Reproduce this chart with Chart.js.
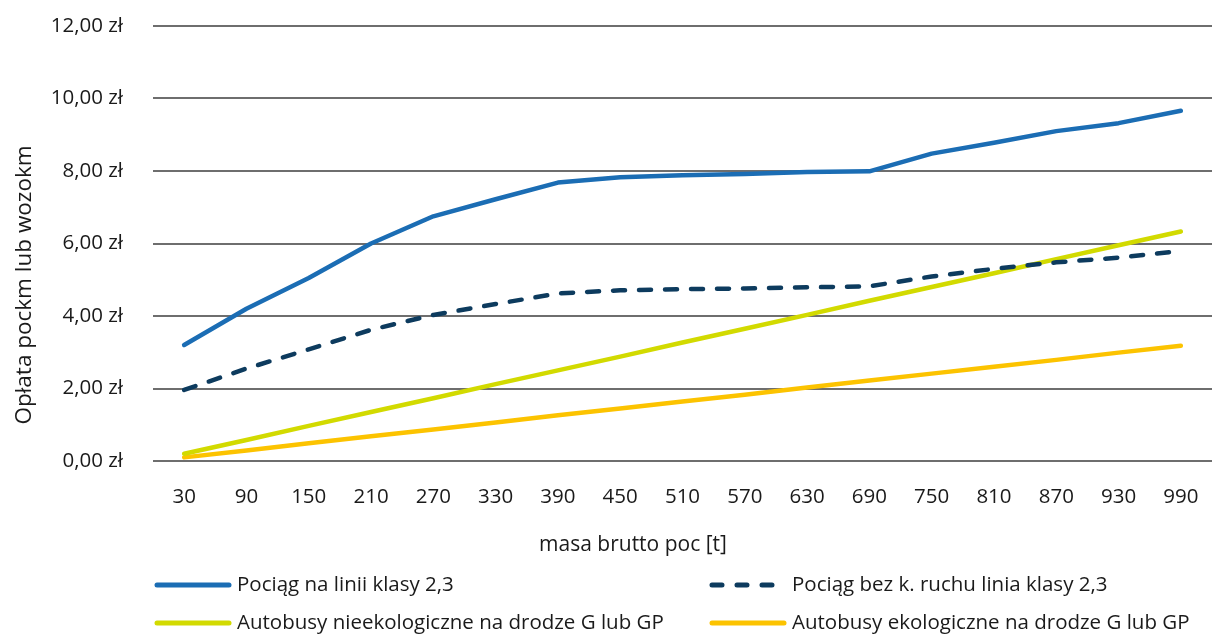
<!DOCTYPE html>
<html lang="pl">
<head>
<meta charset="utf-8">
<script src="https://cdn.jsdelivr.net/npm/chart.js@4/dist/chart.umd.min.js"></script>
<style>
  html, body { margin: 0; padding: 0; background: #ffffff; }
  #wrap { width: 1212px; height: 636px; position: relative; }
</style>
</head>
<body>
<div id="wrap"><canvas id="chart" width="1212" height="636"></canvas></div>
<script>
// Gross train mass [t]
const masses = ['30','90','150','210','270','330','390','450','510','570','630','690','750','810','870','930','990'];

// Fee per train-km or vehicle-km [zł]
const pociagLinia23 = [3.20, 4.20, 5.05, 6.00, 6.75, 7.22, 7.68, 7.83, 7.88, 7.92, 7.97, 7.99, 8.48, 8.78, 9.10, 9.32, 9.66];
const pociagBezRuchu = [1.96, 2.55, 3.08, 3.62, 4.03, 4.33, 4.62, 4.71, 4.74, 4.76, 4.79, 4.82, 5.09, 5.30, 5.48, 5.61, 5.79];
const autobusyNieeko = [0.20, 0.58, 0.97, 1.35, 1.73, 2.12, 2.50, 2.88, 3.27, 3.65, 4.03, 4.42, 4.80, 5.18, 5.57, 5.95, 6.33];
const autobusyEko    = [0.10, 0.29, 0.49, 0.68, 0.87, 1.06, 1.26, 1.45, 1.64, 1.83, 2.03, 2.22, 2.41, 2.60, 2.79, 2.99, 3.18];

const yTicks = [0, 2, 4, 6, 8, 10, 12];

const seriesNames = [
  'Pociąg na linii klasy 2,3',
  'Pociąg bez k. ruchu linia klasy 2,3',
  'Autobusy nieekologiczne na drodze G lub GP',
  'Autobusy ekologiczne na drodze G lub GP'
];

const yTitle = 'Opłata pockm lub wozokm';
const xTitle = 'masa brutto poc [t]';

const FONT = '"Open Sans", "Noto Sans", sans-serif';
const TEXT = '#1a1a1a';

function formatZl(v) {
  return v.toFixed(2).replace('.', ',') + ' zł';
}

// Axis titles and a two-column legend, drawn on the canvas after the chart
const annotations = {
  id: 'annotations',
  afterDraw(chart) {
    const ctx = chart.ctx;
    ctx.save();
    ctx.fillStyle = TEXT;
    ctx.textBaseline = 'middle';

    // vertical axis title
    ctx.font = '22.5px ' + FONT;
    ctx.textAlign = 'center';
    ctx.save();
    ctx.translate(25, 285);
    ctx.rotate(-Math.PI / 2);
    ctx.fillText(yTitle, 0, 0);
    ctx.restore();

    // horizontal axis title
    ctx.font = '21px ' + FONT;
    ctx.fillText(xTitle, 633, 545);

    // legend
    const cols = [155, 710];
    const rows = [585, 623];
    ctx.font = '20.5px ' + FONT;
    ctx.textAlign = 'left';
    chart.data.datasets.forEach((ds, i) => {
      const x = cols[i % 2];
      const y = rows[Math.floor(i / 2)];
      ctx.beginPath();
      ctx.strokeStyle = ds.borderColor;
      ctx.lineWidth = 5;
      ctx.lineCap = 'round';
      ctx.setLineDash(ds.borderDash && ds.borderDash.length ? [10, 15] : []);
      ctx.moveTo(x + 2, y);
      ctx.lineTo(x + 74, y);
      ctx.stroke();
      ctx.setLineDash([]);
      ctx.fillStyle = TEXT;
      ctx.fillText(ds.label, x + 82, y);
    });
    ctx.restore();
  }
};

new Chart(document.getElementById('chart'), {
  type: 'line',
  data: {
    labels: masses,
    datasets: [
      { label: seriesNames[0], data: pociagLinia23, borderColor: '#1b6db4', borderWidth: 4.5 },
      { label: seriesNames[1], data: pociagBezRuchu, borderColor: '#0d3b5e', borderWidth: 4.5, borderDash: [12, 14], borderCapStyle: 'round' },
      { label: seriesNames[2], data: autobusyNieeko, borderColor: '#d2da00', borderWidth: 4.5 },
      { label: seriesNames[3], data: autobusyEko, borderColor: '#fcc300', borderWidth: 4.5 }
    ]
  },
  options: {
    responsive: false,
    animation: false,
    events: [],
    layout: { padding: { left: 0, right: -3, top: 26, bottom: 0 } },
    elements: {
      point: { radius: 0 },
      line: { tension: 0, borderCapStyle: 'round', borderJoinStyle: 'round' }
    },
    plugins: {
      legend: { display: false },
      tooltip: { enabled: false }
    },
    scales: {
      x: {
        type: 'category',
        offset: true,
        grid: { display: false, drawTicks: false },
        border: { display: false },
        ticks: { color: TEXT, font: { family: FONT, size: 20.5 }, padding: 24, maxRotation: 0, autoSkip: false },
        afterFit(scale) {
          scale.height = 175;
          scale.paddingLeft = 0;
          scale.paddingRight = 0;
        }
      },
      y: {
        min: 0,
        max: 12,
        afterBuildTicks(scale) { scale.ticks = yTicks.map(v => ({ value: v })); },
        grid: { color: '#6e6e6e', lineWidth: 2, drawTicks: false },
        border: { display: false },
        ticks: { color: TEXT, font: { family: FONT, size: 20.5 }, padding: 30, callback: v => formatZl(v) },
        afterFit(scale) {
          scale.width = 153;
          scale.paddingTop = 0;
          scale.paddingBottom = 0;
        }
      }
    }
  },
  plugins: [annotations]
});
</script>
</body>
</html>
